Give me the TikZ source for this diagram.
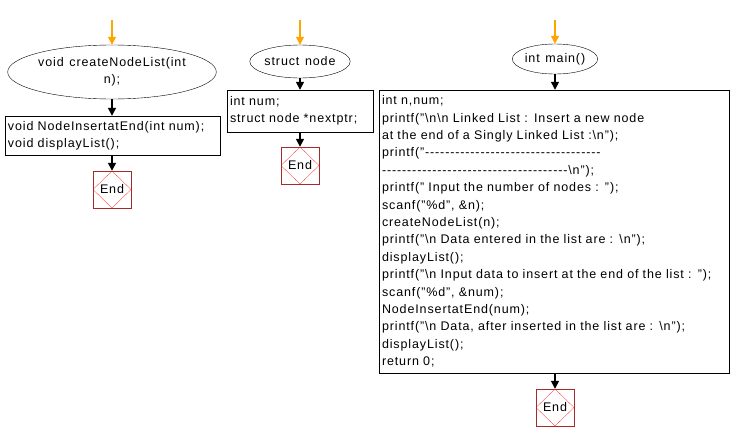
\documentclass[tikz,border=0pt]{standalone}
\usepackage{fontspec}
\setmainfont{Liberation Sans}[LetterSpace=7, WordSpace=1.3]
\usetikzlibrary{shapes.geometric, arrows.meta}

\definecolor{startorange}{RGB}{255,165,0}
\definecolor{endred}{RGB}{165,42,42}

\ExplSyntaxOn
\newcommand\dashrun[1]{\prg_replicate:nn{#1}{-{}}}
\ExplSyntaxOff
\newcommand\bs{\textbackslash}

\tikzset{
  every node/.style={font=\fontsize{12.5}{17.4}\selectfont},
  func/.style={draw, ellipse, inner sep=0pt, align=center},
  code/.style={draw, rectangle, align=left, inner xsep=3pt, inner ysep=0pt},
  endbox/.style={draw=endred, minimum width=38pt, minimum height=37pt, inner sep=0pt,
    path picture={\draw[red, very thin] (path picture bounding box.north) -- (path picture bounding box.east)
      -- (path picture bounding box.south) -- (path picture bounding box.west) -- cycle;}},
  flow/.style={-{Triangle[length=8pt,width=8pt]}, line width=1.4pt},
  entry/.style={-{Triangle[length=8pt,width=8pt]}, draw=startorange, line width=1.2pt}
}

\begin{document}
\begin{tikzpicture}[x=1pt, y=-1pt]
  \useasboundingbox (0,0) rectangle (731,442);
  %
  % createNodeList
  \coordinate (s1) at (112,20);
  \node[func, minimum width=176pt, minimum height=54pt] (e1) at (112,72) {void createNodeList(int\\ n);};
  \node[code, minimum width=215pt, minimum height=39pt, text width=209pt] (c1) at (112.5,135.5)
    {void NodeInsertatEnd(int num);\\ void displayList();};
  \node[endbox] (end1) at (112,189.5) {End};
  \draw[entry] (s1) -- (e1.north);
  \draw[flow] (e1.south) -- (e1.south |- c1.north);
  \draw[flow] (end1.north |- c1.south) -- (end1.north);
  %
  % struct node
  \coordinate (s2) at (300,20);
  \node[func, minimum width=91pt, minimum height=33pt] (e2) at (300,61.5) {struct node};
  \node[code, minimum width=146pt, minimum height=42pt, text width=140pt] (c2) at (300,111)
    {int num;\\ struct node *nextptr;};
  \node[endbox] (end2) at (300,165.5) {End};
  \draw[entry] (s2) -- (e2.north);
  \draw[flow] (e2.south) -- (e2.south |- c2.north);
  \draw[flow] (end2.north |- c2.south) -- (end2.north);
  %
  % main
  \coordinate (s3) at (555,20);
  \node[func, minimum width=82pt, minimum height=30pt] (e3) at (555,59) {int main()};
  \node[code, minimum width=350pt, minimum height=283pt, text width=344pt] (c3) at (554,231.5)
    {int n,num;\\
     printf("\bs n\bs n Linked List : Insert a new node\\
     at the end of a Singly Linked List :\bs n");\\
     printf("\dashrun{35}\\
     \dashrun{37}\bs n");\\
     printf(" Input the number of nodes : ");\\
     scanf("\%d", \&n);\\
     createNodeList(n);\\
     printf("\bs n Data entered in the list are : \bs n");\\
     displayList();\\
     printf("\bs n Input data to insert at the end of the list : ");\\
     scanf("\%d", \&num);\\
     NodeInsertatEnd(num);\\
     printf("\bs n Data, after inserted in the list are : \bs n");\\
     displayList();\\
     return 0;};
  \node[endbox] (end3) at (555,407.5) {End};
  \draw[entry] (s3) -- (e3.north);
  \draw[flow] (e3.south) -- (e3.south |- c3.north);
  \draw[flow] (end3.north |- c3.south) -- (end3.north);
\end{tikzpicture}
\end{document}
